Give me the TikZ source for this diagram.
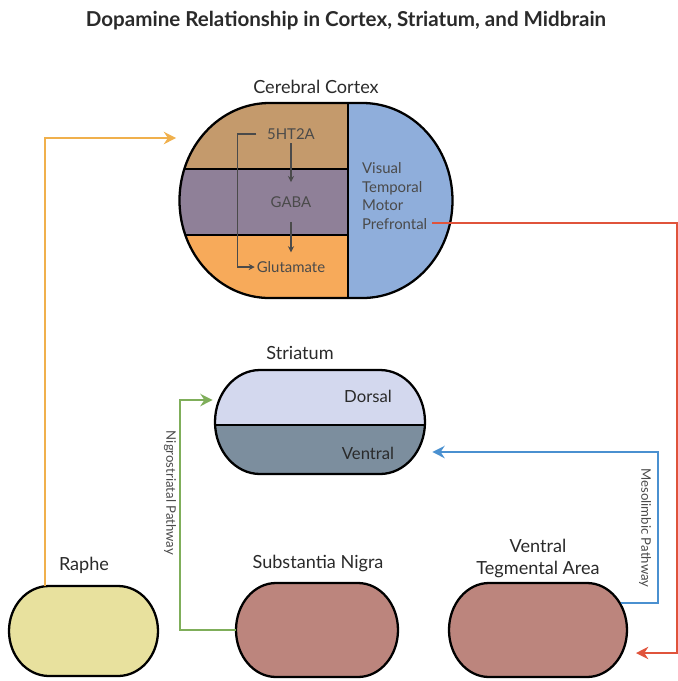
\documentclass[tikz,border=0pt]{standalone}
\usepackage{fontspec}
\setmainfont{Lato}
\usepackage{tikz}
\usetikzlibrary{arrows.meta,positioning,calc}

\definecolor{ctxtan}{HTML}{C49A6C}
\definecolor{ctxmauve}{HTML}{8F8098}
\definecolor{ctxorange}{HTML}{F7AA5A}
\definecolor{ctxblue}{HTML}{8FAEDB}
\definecolor{strdorsal}{HTML}{D3D8EE}
\definecolor{strventral}{HTML}{7C8E9E}
\definecolor{raphefill}{HTML}{E8E19E}
\definecolor{midfill}{HTML}{BC857D}
\definecolor{orangeline}{HTML}{F0B04C}
\definecolor{greenline}{HTML}{7FAE5A}
\definecolor{blueline}{HTML}{4A90D0}
\definecolor{redline}{HTML}{E0533B}
\definecolor{textdark}{HTML}{2A2A2A}
\definecolor{textgray}{HTML}{4A4A4A}

% outline of a region: centre x, centre y, half width, half height, corner radius (px)
\newcommand{\regionpath}[5]{({#1-#3+#5},{#2-#4}) -- ({#1+#3-#5},{#2-#4})
    arc[start angle=90, end angle=-90, x radius={#5*0.02cm}, y radius={#4*0.02cm}]
    -- ({#1-#3+#5},{#2+#4})
    arc[start angle=270, end angle=90, x radius={#5*0.02cm}, y radius={#4*0.02cm}] -- cycle}

\begin{document}
\begin{tikzpicture}[x=0.02cm, y=-0.02cm,
    region/.style={draw=black, line width=1.3pt},
    areaname/.style={font=\fontsize{10.3}{12.5}\selectfont, text=textdark},
    innertext/.style={font=\fontsize{8.5}{10.5}\selectfont, text=textgray, inner sep=1pt},
    flow/.style={line width=1.1pt, -{Stealth[length=7pt,width=7pt]}},
    innerarrow/.style={draw=textgray, line width=0.7pt, -{Stealth[length=3.5pt,width=3.5pt]}},
    pathway/.style={font=\fontsize{7.5}{9}\selectfont, text=textgray, rotate=-90}]
    \useasboundingbox (0,0) rectangle (678,681);

    \node[font=\bfseries\fontsize{11.7}{14}\selectfont, text=textdark] (title) at (346,21)
        {Dopamine Relationship in Cortex, Striatum, and Midbrain};

    % Cortex
    \begin{scope}
        \clip \regionpath{316}{200.5}{136.5}{97.5}{90};
        \fill[ctxblue] (170,95) rectangle (460,305);
        \fill[ctxtan] (170,95) rectangle (348,169);
        \fill[ctxmauve] (170,169) rectangle (348,235);
        \fill[ctxorange] (170,235) rectangle (348,305);
        \draw[line width=1.3pt] (348,95) -- (348,305);
        \draw[line width=1.3pt] (170,169) -- (348,169);
        \draw[line width=1.3pt] (170,235) -- (348,235);
    \end{scope}
    \draw[region] \regionpath{316}{200.5}{136.5}{97.5}{90};
    \node[minimum width=5.46cm, minimum height=3.9cm] (cortex) at (316,200.5) {};
    \node[areaname] (cortexname) at (316,87) {Cerebral Cortex};

    \node[innertext] (ht) at (291,134) {5HT2A};
    \node[innertext] (gaba) at (291,202) {GABA};
    \node[innertext] (glu) at (291,267) {Glutamate};
    \draw[innerarrow, shorten <=1pt, shorten >=7pt] (ht) -- (gaba);
    \draw[innerarrow, shorten <=7pt, shorten >=4pt] (gaba) -- (glu);
    \draw[innerarrow] ([xshift=-5pt]ht.west) -- ++(-19,0) |- (glu.west);

    \node[innertext, align=left, anchor=west] (lobes) at (360,196)
        {Visual\\Temporal\\Motor\\Prefrontal};

    % Striatum
    \begin{scope}
        \clip \regionpath{320}{422}{105}{52}{45};
        \fill[strdorsal] (210,365) rectangle (430,425);
        \fill[strventral] (210,425) rectangle (430,480);
        \draw[line width=1.3pt] (210,425) -- (430,425);
    \end{scope}
    \draw[region] \regionpath{320}{422}{105}{52}{45};
    \node[minimum width=4.2cm, minimum height=2.08cm] (striatum) at (320,422) {};
    \node[areaname] (striatumname) at (300,353) {Striatum};
    \node[innertext, font=\fontsize{9.5}{11}\selectfont, text=textdark] (dorsal) at (368,396) {Dorsal};
    \node[innertext, font=\fontsize{9.5}{11}\selectfont, text=textdark] (ventral) at (368,453) {Ventral};

    % Midbrain
    \draw[region, fill=raphefill] \regionpath{83.5}{631}{74.5}{45}{40};
    \draw[region, fill=midfill] \regionpath{317}{630}{81}{47}{40};
    \draw[region, fill=midfill] \regionpath{538}{630}{89}{47}{40};
    \node[minimum width=2.98cm, minimum height=1.8cm] (raphe) at (83.5,631) {};
    \node[minimum width=3.24cm, minimum height=1.88cm] (sn) at (317,630) {};
    \node[minimum width=3.56cm, minimum height=1.88cm] (vta) at (538,630) {};
    \node[areaname] (raphename) at (84,565) {Raphe};
    \node[areaname] (snname) at (318,563) {Substantia Nigra};
    \node[areaname, align=center] (vtaname) at (538,558) {Ventral\\Tegmental Area};

    % Pathways
    \coordinate (pfc) at (432,223);
    \coordinate (redturn) at (677,223);
    \coordinate (redend) at (636,653);
    \draw[flow, draw=orangeline, sharp corners] (45,0 |- raphe.north) |- ([xshift=-0.06cm]cortex.west |- 0,138);
    \draw[flow, draw=greenline] (sn.west) -| (180,400) -- ([xshift=-0.04cm]striatum.west |- 0,400);
    \draw[flow, draw=blueline] ([xshift=-0.12cm]vta.east |- 0,603) -| (658,452) -- ([xshift=0.14cm]striatum.east |- 0,452);
    \draw[flow, draw=redline] (pfc) -- (redturn) |- (redend);

    \node[pathway] (nigro) at (170,493) {Nigrostriatal Pathway};
    \node[pathway] (meso) at (645,528) {Mesolimbic Pathway};
\end{tikzpicture}
\end{document}
